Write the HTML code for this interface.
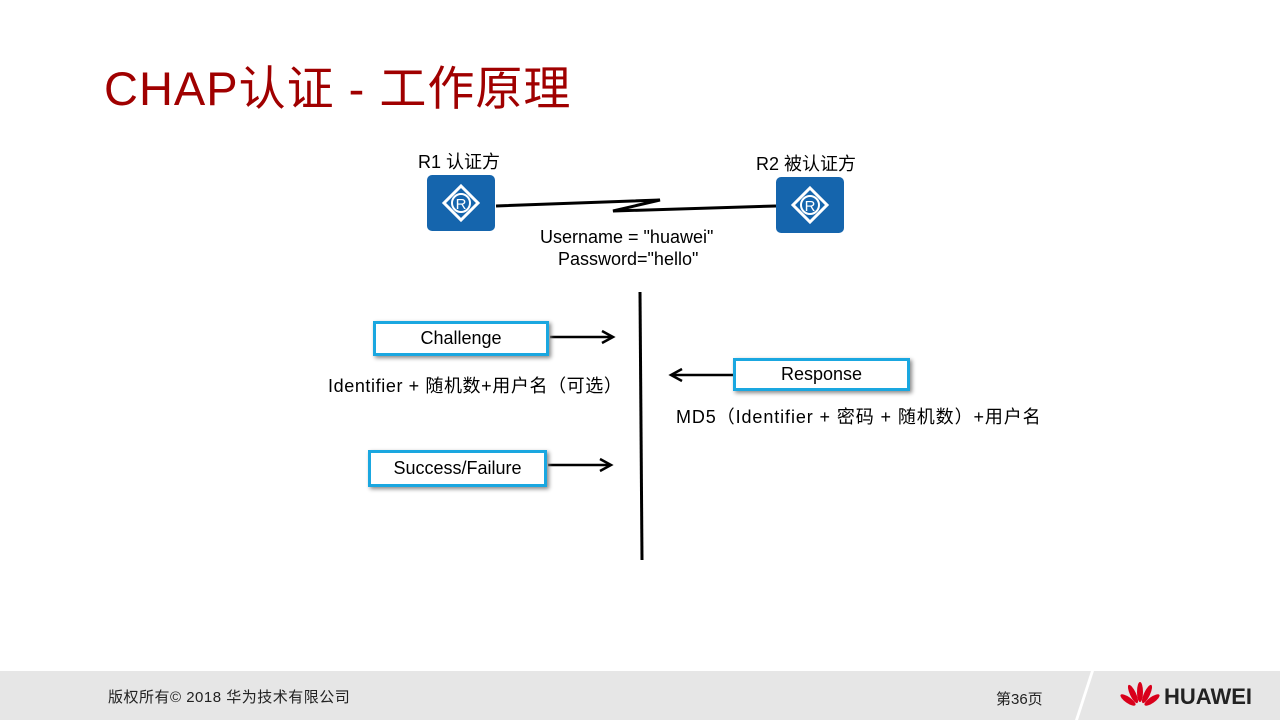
<!DOCTYPE html>
<html><head><meta charset="utf-8"><style>
body{margin:0;width:1280px;height:720px;position:relative;background:#fff;font-family:"Liberation Sans","Noto Sans CJK SC",sans-serif;overflow:hidden}
.t{position:absolute;white-space:nowrap;color:#000}
.box{position:absolute;border:3px solid #1aa7e0;background:#fff;box-shadow:2px 2px 4px #888;font-size:18px;text-align:center;box-sizing:border-box}
.r{position:absolute;width:68px;height:56px;background:#1565ad;border-radius:5px}
</style></head><body>
<div class="t" style="left:104px;top:50px;font-size:47px;letter-spacing:1px;color:#a00000">CHAP认证 - 工作原理</div>
<div class="t" style="left:418px;top:148px;font-size:18px">R1 认证方</div>
<div class="t" style="left:756px;top:150px;font-size:18px">R2 被认证方</div>
<div class="r" style="left:427px;top:175px"></div>
<div class="r" style="left:776px;top:177px"></div>
<svg width="1280" height="720" style="position:absolute;left:0;top:0">
<g fill="none" stroke="#fff" stroke-width="3">
<polygon points="461,186 478,203 461,220 444,203"/><circle cx="461" cy="203" r="9" stroke-width="2"/>
<polygon points="810,188 827,205 810,222 793,205"/><circle cx="810" cy="205" r="9" stroke-width="2"/>
</g>
<text x="461" y="209" text-anchor="middle" fill="#fff" font-size="15" font-family="Liberation Sans">R</text>
<text x="810" y="211" text-anchor="middle" fill="#fff" font-size="15" font-family="Liberation Sans">R</text>
<polyline points="496,206 660,200 613,211 776,206" fill="none" stroke="#000" stroke-width="3"/>
<line x1="640" y1="292" x2="642" y2="560" stroke="#000" stroke-width="3"/>
<g stroke="#000" stroke-width="2.5" fill="none">
<line x1="550" y1="337" x2="612" y2="337"/><polyline points="602,331 613,337 602,343"/>
<line x1="548" y1="465" x2="610" y2="465"/><polyline points="600,459 611,465 600,471"/>
<line x1="733" y1="375" x2="672" y2="375"/><polyline points="682,369 671,375 682,381"/>
</g>
</svg>
<div class="t" style="left:540px;top:227px;font-size:18px">Username = "huawei"</div>
<div class="t" style="left:558px;top:249px;font-size:18px">Password="hello"</div>
<div class="box" style="left:373px;top:321px;width:176px;height:35px;line-height:29px">Challenge</div>
<div class="t" style="left:328px;top:372px;font-size:18px;letter-spacing:0.6px">Identifier + 随机数+用户名（可选）</div>
<div class="box" style="left:733px;top:358px;width:177px;height:33px;line-height:27px">Response</div>
<div class="t" style="left:676px;top:403px;font-size:18px;letter-spacing:0.9px">MD5（Identifier + 密码 + 随机数）+用户名</div>
<div class="box" style="left:368px;top:450px;width:179px;height:37px;line-height:31px">Success/Failure</div>
<div style="position:absolute;left:0;top:671px;width:1280px;height:49px;background:#e6e6e6"></div>
<div style="position:absolute;left:1083px;top:671px;width:3px;height:49px;background:#fff;transform:skewX(-18deg)"></div>
<div class="t" style="left:108px;top:686px;font-size:15px;letter-spacing:0.5px;color:#222">版权所有© 2018 华为技术有限公司</div>
<div class="t" style="left:996px;top:688px;font-size:15px;color:#222">第36页</div>
<svg width="40" height="30" style="position:absolute;left:1120px;top:682px" viewBox="0 0 40 30">
<g fill="#d9001b"><ellipse cx="20" cy="10" rx="3" ry="10"/><ellipse cx="13" cy="12" rx="3" ry="10" transform="rotate(-25 13 12)"/><ellipse cx="27" cy="12" rx="3" ry="10" transform="rotate(25 27 12)"/><ellipse cx="8" cy="18" rx="3" ry="9" transform="rotate(-55 8 18)"/><ellipse cx="32" cy="18" rx="3" ry="9" transform="rotate(55 32 18)"/></g></svg>
<div class="t" style="left:1164px;top:684px;font-size:22px;font-weight:bold;color:#222">HUAWEI</div>
</body></html>
